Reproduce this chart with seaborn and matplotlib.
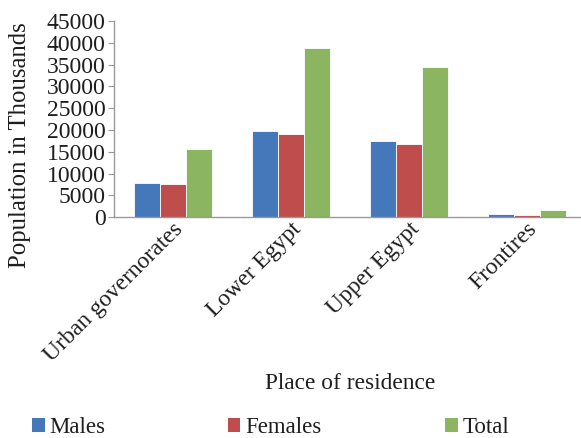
import matplotlib
matplotlib.use("Agg")
import matplotlib.pyplot as plt
import seaborn as sns
import pandas as pd
from matplotlib.patches import Patch

# Population by place of residence (thousands)
places = ["Urban governorates", "Lower Egypt", "Upper Egypt", "Frontires"]
males = [7900, 19800, 17500, 830]
females = [7700, 19050, 16800, 600]
total = [15600, 38900, 34500, 1600]
series = ["Males", "Females", "Total"]
colors = ["#4478BA", "#BE4D4B", "#8BB560"]
yticks = list(range(0, 45001, 5000))

df = pd.DataFrame({
    "place": places * 3,
    "series": ["Males"] * 4 + ["Females"] * 4 + ["Total"] * 4,
    "value": males + females + total,
})

sns.set_theme(style="white")
plt.rcParams["font.family"] = ["Liberation Serif", "DejaVu Serif"]
TXT = "#1e1e1e"

fig = plt.figure(figsize=(5.81, 4.38), dpi=100)
ax = fig.add_axes([0.196, 0.504, 0.812, 0.448])

sns.barplot(data=df, x="place", y="value", hue="series", hue_order=series,
            palette=colors, width=0.66, saturation=1, ax=ax,
            edgecolor="white", linewidth=0.6, legend=False)

ax.set_ylim(0, 45000)
ax.set_xlim(-0.5, 3.5)
ax.set_yticks(yticks)
ax.set_yticklabels([str(v) for v in yticks], fontsize=17, color=TXT)
ax.tick_params(axis="y", length=4, width=0.8, color="#999999", pad=2, direction="out", left=True)
ax.tick_params(axis="x", length=0, pad=1)
for lbl in ax.get_xticklabels():
    lbl.set_rotation(45)
    lbl.set_ha("right")
    lbl.set_rotation_mode("anchor")
    lbl.set_fontsize(17)
    lbl.set_color(TXT)

for side in ["top", "right"]:
    ax.spines[side].set_visible(False)
for side in ["left", "bottom"]:
    ax.spines[side].set_color("#999999")
    ax.spines[side].set_linewidth(1.0)

ax.set_xlabel("")
ax.set_ylabel("")
fig.text(0.034, 0.669, "Population in Thousands", rotation=90, fontsize=17.8,
         color=TXT, ha="center", va="center")
fig.text(0.602, 0.125, "Place of residence", fontsize=16.8, color=TXT,
         ha="center", va="center")

handles = [Patch(facecolor=c, edgecolor="none") for c in colors]
for h, name, x in zip(handles, series, [0.055, 0.392, 0.766]):
    fig.legend([h], [name], loc="center left", bbox_to_anchor=(x, 0.024),
               frameon=False, fontsize=16.5, handlelength=0.55, handleheight=0.55,
               handletextpad=0.2, borderaxespad=0, borderpad=0,
               labelcolor=TXT)

fig.savefig("out.png", dpi=100)
